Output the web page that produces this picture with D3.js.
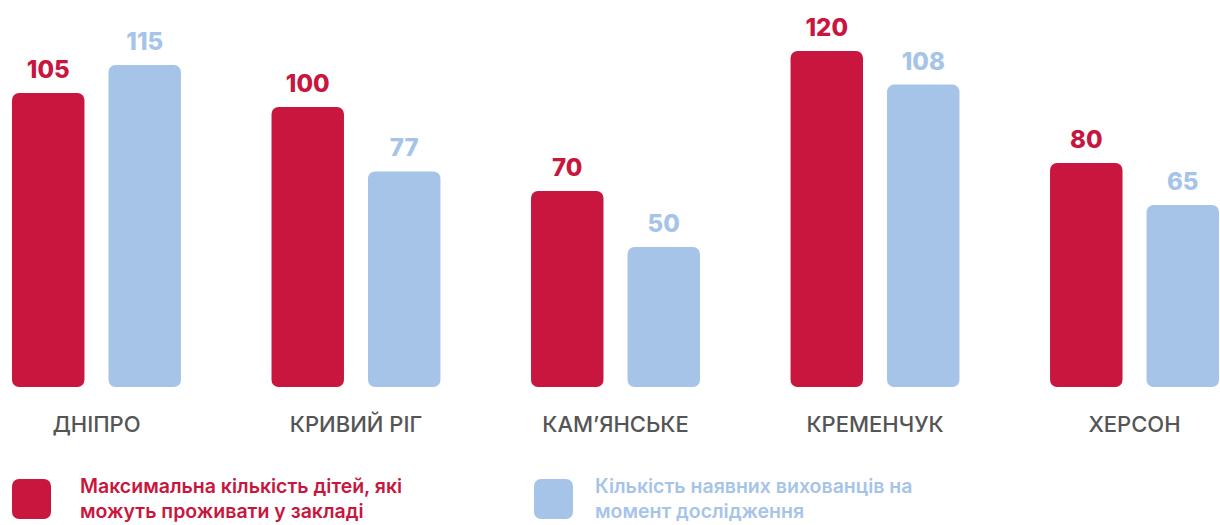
<!DOCTYPE html>
<html>
<head>
<meta charset="utf-8">
<script src="https://cdn.jsdelivr.net/npm/d3@7"></script>
<style>
  html, body { margin: 0; padding: 0; background: #fff; }
  svg { display: block; }
</style>
</head>
<body>
<svg id="chart" width="1220" height="525"></svg>
<script>
const categories = ["ДНІПРО", "КРИВИЙ РІГ", "КАМ’ЯНСЬКЕ", "КРЕМЕНЧУК", "ХЕРСОН"];
const seriesNames = [
  "Максимальна кількість дітей, які можуть проживати у закладі",
  "Кількість наявних вихованців на момент дослідження"
];
const maxCapacity = [105, 100, 70, 120, 80];
const currentResidents = [115, 77, 50, 108, 65];
const legendLines = [
  ["Максимальна кількість дітей, які", "можуть проживати у закладі"],
  ["Кількість наявних вихованців на", "момент дослідження"]
];

const colors = ["#C8163E", "#A6C4E7"];
const labelColors = ["#C8163E", "#A6C4E7"];

const svg = d3.select("#chart");
const baseY = 387;
const topY = 51;

const x0 = d3.scaleBand().domain(categories).range([12, 1219]).paddingInner(0.349).paddingOuter(0);
const x1 = d3.scaleBand().domain([0, 1]).range([0, x0.bandwidth()]).paddingInner(0.249).paddingOuter(0);
const y = d3.scaleLinear().domain([0, 120]).range([baseY, topY]);

const data = categories.map((c, i) => ({ cat: c, vals: [maxCapacity[i], currentResidents[i]] }));

const g = svg.selectAll("g.grp").data(data).join("g")
  .attr("class", "grp")
  .attr("transform", d => `translate(${x0(d.cat)},0)`);

g.selectAll("rect").data(d => d.vals.map((v, s) => ({ v, s }))).join("rect")
  .attr("x", d => x1(d.s))
  .attr("y", d => y(d.v))
  .attr("width", x1.bandwidth())
  .attr("height", d => baseY - y(d.v))
  .attr("rx", 7).attr("ry", 7)
  .attr("fill", d => colors[d.s]);

g.selectAll("text.val").data(d => d.vals.map((v, s) => ({ v, s }))).join("text")
  .attr("class", "val")
  .attr("x", d => x1(d.s) + x1.bandwidth() / 2)
  .attr("y", d => y(d.v) - 15)
  .attr("text-anchor", "middle")
  .attr("font-family", "Inter, 'Noto Sans', sans-serif")
  .attr("font-weight", 800)
  .attr("font-size", 24)
  .attr("fill", d => labelColors[d.s])
  .text(d => d.v);

svg.selectAll("text.cat").data(categories).join("text")
  .attr("class", "cat")
  .attr("x", d => x0(d) + x0.bandwidth() / 2)
  .attr("y", 432)
  .attr("text-anchor", "middle")
  .attr("font-family", "Inter, 'Noto Sans', sans-serif")
  .attr("font-weight", 500)
  .attr("font-size", 22)
  .attr("fill", "#555555")
  .text(d => d);

const legendX = [12, 534];
const leg = svg.selectAll("g.leg").data(seriesNames).join("g")
  .attr("class", "leg")
  .attr("transform", (d, i) => `translate(${legendX[i]},479)`);

leg.append("rect")
  .attr("width", 39).attr("height", 40)
  .attr("rx", 7).attr("ry", 7)
  .attr("fill", (d, i) => colors[i]);

leg.each(function(d, i) {
  const t = d3.select(this).append("text")
    .attr("font-family", "Inter, 'Noto Sans', sans-serif")
    .attr("font-weight", 600)
    .attr("font-size", 19.5)
    .attr("fill", labelColors[i]);
  legendLines[i].forEach((line, k) => {
    t.append("tspan").attr("x", i === 0 ? 68 : 61).attr("y", 14 + k * 25).text(line);
  });
});
</script>
</body>
</html>
